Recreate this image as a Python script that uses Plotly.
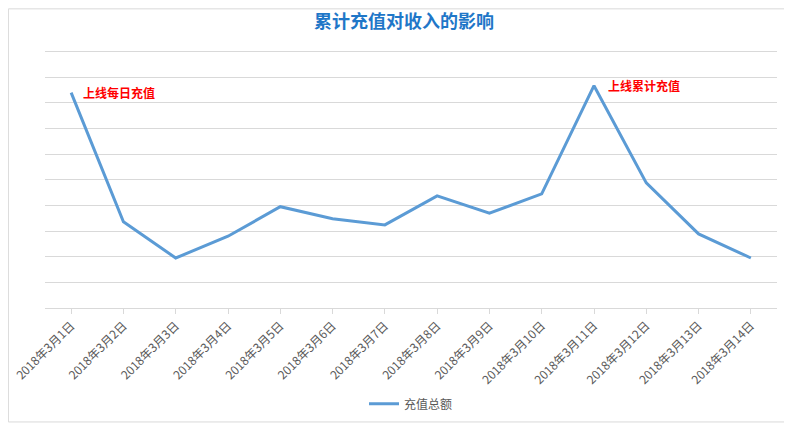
import plotly.graph_objects as go

dates = ['2018年3月%d日' % d for d in range(1, 15)]
totals = [8.4, 3.36, 1.95, 2.8, 3.95, 3.48, 3.24, 4.37, 3.7, 4.45, 8.67, 4.88, 2.89, 1.95]

fig = go.Figure()
fig.add_trace(go.Scatter(x=dates, y=totals, mode='lines', name='充值总额',
                         line=dict(color='#5B9BD5', width=3)))

fig.add_annotation(x=dates[0], y=totals[0], text='<b>上线每日充值</b>', showarrow=False,
                   xanchor='left', xshift=10, yshift=0,
                   font=dict(color='#FF0000', size=12))
fig.add_annotation(x=dates[10], y=totals[10], text='<b>上线累计充值</b>', showarrow=False,
                   xanchor='left', xshift=12, yshift=0,
                   font=dict(color='#FF0000', size=12))

fig.update_layout(
    width=792, height=423,
    paper_bgcolor='white', plot_bgcolor='white',
    font=dict(family='Noto Sans CJK SC', color='#595959'),
    title=dict(text='<b>累计充值对收入的影响</b>', x=0.5, xanchor='center', y=0.967, yanchor='middle',
               font=dict(size=18, color='#1F77C8')),
    margin=dict(l=37, r=23, t=41, b=123, autoexpand=False),
    showlegend=True,
    legend=dict(orientation='h', x=0.5, xanchor='center', y=-0.37, yanchor='middle',
                font=dict(size=12)),
    xaxis=dict(tickangle=-45, tickfont=dict(size=12), showgrid=False, automargin=False,
               showline=True, linecolor='#D9D9D9', ticks='outside', tickcolor='#D9D9D9',
               range=[-0.5, 13.5]),
    yaxis=dict(range=[0, 10.1], tick0=0, dtick=1, showticklabels=False, gridcolor='#D9D9D9',
               showgrid=True, zeroline=False, automargin=False),
    shapes=[dict(type='rect', xref='paper', yref='paper', x0=-0.05, x1=1.019, y0=-0.44, y1=1.155,
                 line=dict(color='#D9D9D9', width=1))],
)

fig.write_html('out.html')
